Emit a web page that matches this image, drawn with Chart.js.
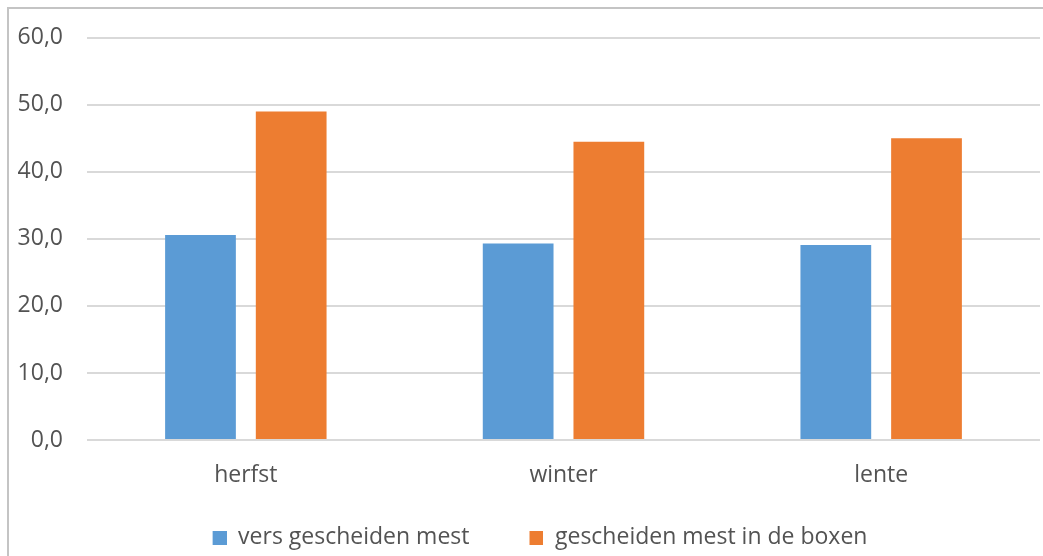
<!DOCTYPE html>
<html>
<head>
<meta charset="utf-8">
<script src="https://cdn.jsdelivr.net/npm/chart.js@4/dist/chart.umd.min.js"></script>
<style>
  html, body { margin: 0; padding: 0; background: #ffffff; }
  #wrap { position: absolute; left: 0; top: 0; width: 1043px; height: 556px; }
</style>
</head>
<body>
<div id="wrap"><canvas id="chart" width="1043" height="556"></canvas></div>
<script>
// Seasons on the x axis
const categories = ['herfst', 'winter', 'lente'];
// Series values
const versGescheidenMest = [30.6, 29.3, 29.1];
const gescheidenMestInDeBoxen = [49.0, 44.5, 45.0];
const seriesNames = ['vers gescheiden mest', 'gescheiden mest in de boxen'];
const seriesColors = ['#5b9bd5', '#ed7d31'];
// Y axis range
const yMin = 0, yMax = 60, yStep = 10;

const textColor = '#535353';
const fontFamily = '"Open Sans", "DejaVu Sans", sans-serif';
const labelFont = { family: fontFamily, size: 23 };

// Legend swatch: blank lead-in followed by a small square, so the
// legend entries sit further apart
const SWATCH_LEAD = 30, SWATCH_SIZE = 14;
function makeSwatch(color) {
  const c = document.createElement('canvas');
  c.width = SWATCH_LEAD + SWATCH_SIZE;
  c.height = SWATCH_SIZE;
  const g = c.getContext('2d');
  g.fillStyle = color;
  g.fillRect(SWATCH_LEAD, 0, SWATCH_SIZE, SWATCH_SIZE);
  return c;
}
const swatches = seriesColors.map(makeSwatch);

// Thin grey frame along the top and left edges
const framePlugin = {
  id: 'frame',
  beforeDraw(chart) {
    const ctx = chart.ctx;
    ctx.save();
    ctx.strokeStyle = '#c4c4c4';
    ctx.lineWidth = 2;
    ctx.beginPath();
    ctx.moveTo(8, 556);
    ctx.lineTo(8, 8);
    ctx.lineTo(1043, 8);
    ctx.stroke();
    ctx.restore();
  }
};

new Chart(document.getElementById('chart'), {
  type: 'bar',
  data: {
    labels: categories,
    datasets: [
      { label: seriesNames[0], data: versGescheidenMest, backgroundColor: seriesColors[0] },
      { label: seriesNames[1], data: gescheidenMestInDeBoxen, backgroundColor: seriesColors[1] }
    ]
  },
  options: {
    responsive: false,
    animation: false,
    devicePixelRatio: 1,
    layout: { padding: { left: 10, right: 3, top: 34, bottom: -3 } },
    datasets: {
      bar: { categoryPercentage: 0.571, barPercentage: 0.78 }
    },
    scales: {
      x: {
        grid: { display: false },
        border: { display: false },
        ticks: { color: textColor, font: labelFont, padding: 14 },
        afterFit(scale) { scale.height = 56; }
      },
      y: {
        min: yMin, max: yMax,
        ticks: {
          stepSize: yStep,
          color: textColor,
          font: labelFont,
          padding: 24,
          callback: v => v.toFixed(1).replace('.', ',')
        },
        grid: { color: '#d9d9d9', lineWidth: 2, drawTicks: false },
        border: { display: false },
        afterFit(scale) { scale.width = 77; }
      }
    },
    plugins: {
      legend: {
        position: 'bottom',
        labels: {
          color: textColor,
          font: labelFont,
          usePointStyle: true,
          pointStyleWidth: SWATCH_LEAD + SWATCH_SIZE,
          padding: 30,
          generateLabels(chart) {
            const items = Chart.defaults.plugins.legend.labels.generateLabels(chart);
            items.forEach((item, i) => { item.pointStyle = swatches[i]; });
            return items;
          }
        }
      },
      tooltip: { enabled: false }
    }
  },
  plugins: [framePlugin]
});
</script>
</body>
</html>
